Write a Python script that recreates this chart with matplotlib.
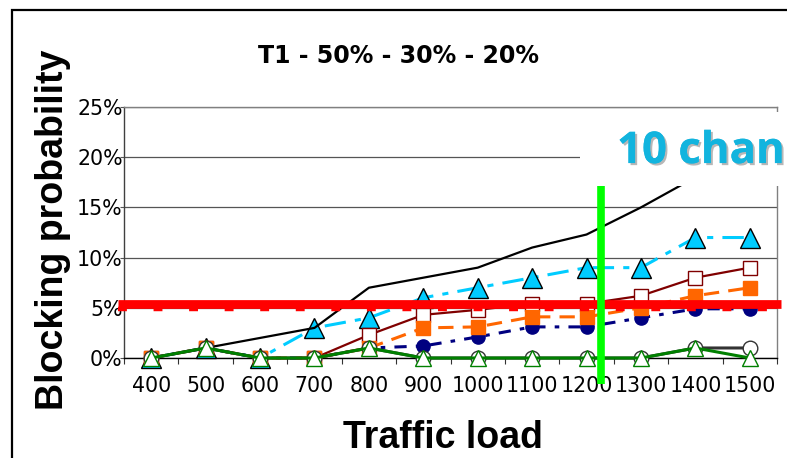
import numpy as np
import matplotlib
matplotlib.use("Agg")
import matplotlib.pyplot as plt
import matplotlib.patheffects as pe
from matplotlib.patches import Rectangle
from matplotlib.ticker import FixedLocator, FuncFormatter

# traffic load categories
loads = [400, 500, 600, 700, 800, 900, 1000, 1100, 1200, 1300, 1400, 1500]

# blocking probability (%) per series
black_line = [0, 1, 2, 3, 7, 8, 9, 11, 12.3, 15, 18, 20]
cyan_tri = [0, 1, 0, 3, 4, 6, 7, 8, 9, 9, 12, 12]
navy_circ = [0, 1, 0, 0, 1, 1.2, 2.1, 3.1, 3.1, 4, 4.9, 4.9]
orange_sq = [0, 1, 0, 0, 1, 3, 3.1, 4.1, 4.1, 5, 6.2, 7]
maroon_sq = [0, 1, 0, 0, 2.3, 4.3, 4.8, 5.4, 5.4, 6.2, 8, 9]
gray_circ = [0, 1, 0, 0, 1, 0, 0, 0, 0, 0, 1, 1]
green_tri = [0, 1, 0, 0, 1, 0, 0, 0, 0, 0, 1, 0]

threshold = 5.4      # red target line
marker_pos = 8.265   # green vertical line (category units)

plt.rcParams['font.family'] = ['DejaVu Sans']

fig = plt.figure(figsize=(7.87, 4.58), dpi=100)
ax = fig.add_axes([0.1576, 0.2183, 0.8297, 0.5481])

x = np.arange(len(loads))

ax.plot(x, cyan_tri, color='#00ccff', lw=2.2, dashes=(7, 3, 2, 3),
        marker='^', ms=14, mfc='#00ccff', mec='black', mew=1, clip_on=False, zorder=3)
ax.plot(x, navy_circ, color='#000080', lw=2.2, dashes=(4, 3, 1.5, 3),
        marker='o', ms=9.5, mfc='#000080', mec='#000080', clip_on=False, zorder=3)
ax.plot(x, maroon_sq, color='#800000', lw=1.6,
        marker='s', ms=10, mfc='white', mec='#800000', mew=1, clip_on=False, zorder=3)
ax.plot(x, orange_sq, color='#ff6600', lw=2.2, dashes=(5, 3),
        marker='s', ms=9.5, mfc='#ff6600', mec='#ff6600', clip_on=False, zorder=3)
ax.plot(x, black_line, color='black', lw=1.6, clip_on=False, zorder=3)
ax.plot(x, gray_circ, color='#333333', lw=2.2,
        marker='o', ms=10.5, mfc='white', mec='#333333', mew=1, clip_on=False, zorder=3)
ax.plot(x, green_tri, color='#008000', lw=2.2,
        marker='^', ms=11, mfc='white', mec='#008000', mew=1, clip_on=False, zorder=3)

# red threshold band
ax.plot([-0.61, 11.57], [threshold, threshold], color='#ff0000', lw=6.3,
        solid_capstyle='butt', clip_on=False, zorder=4)
ax.plot([-0.61, 11.57], [threshold - 0.5, threshold - 0.5], color='#ff0000', lw=3.2,
        dashes=(2, 6), clip_on=False, zorder=4)
# green vertical marker
ax.plot([marker_pos, marker_pos], [-2.6, 17.2], color='#00ff00', lw=5.5,
        solid_capstyle='butt', clip_on=False, zorder=5)

ax.set_xlim(-0.5, len(loads) - 0.5)
ax.set_ylim(0, 25)

ax.xaxis.set_major_locator(FixedLocator(x))
ax.set_xticklabels([str(v) for v in loads])
ax.xaxis.set_minor_locator(FixedLocator(np.arange(-0.5, len(loads), 1.0)))
ax.tick_params(axis='x', which='major', length=0, pad=13, labelsize=14.8)
ax.tick_params(axis='x', which='minor', length=4.3, width=0.8, color='#333333')
ax.set_yticks([0, 5, 10, 15, 20, 25])
ax.yaxis.set_major_formatter(FuncFormatter(lambda v, p: '%d%%' % v))
ax.tick_params(axis='y', length=3, width=0.8, color='#555555', pad=-2, labelsize=14.8)

ax.grid(axis='y', color='#555555', lw=0.9)
ax.set_axisbelow(True)
ax.spines['top'].set_color('#808080')
ax.spines['right'].set_color('#808080')
ax.spines['left'].set_color('#404040')
ax.spines['bottom'].set_color('black')
for s in ax.spines.values():
    s.set_linewidth(1.0)

fig.text(0.506, 0.8624, 'T1 - 50% - 30% - 20%', ha='center', va='baseline',
         fontsize=17, fontweight='bold')
fig.text(0.080, 0.498, 'Blocking probability', rotation=90, rotation_mode='anchor',
         ha='center', va='baseline', fontsize=27, fontweight='bold', family='Liberation Sans')
fig.text(0.563, 0.004, 'Traffic load', ha='center', va='bottom',
         fontsize=27, fontweight='bold', family='Liberation Sans')

# white box behind the channel label
fig.patches.append(Rectangle((0.737, 0.594), 0.3, 0.1615, transform=fig.transFigure,
                             facecolor='white', edgecolor='none', zorder=2))
fig.text(0.784, 0.644, '10 chan', ha='left', va='baseline', fontsize=31.5,
         fontweight='bold', color='#12b4de', family=['Open Sans', 'DejaVu Sans'],
         zorder=3,
         path_effects=[pe.withSimplePatchShadow(offset=(1.5, -1.5), shadow_rgbFace='#999999', alpha=0.7),
                       pe.Normal()])

# outer frame of the slide chart
fig.patches.append(Rectangle((0.0152, -0.5), 2, 1.478, transform=fig.transFigure,
                             fill=False, edgecolor='black', lw=1.6, zorder=4))

fig.savefig('out.png', dpi=100)
